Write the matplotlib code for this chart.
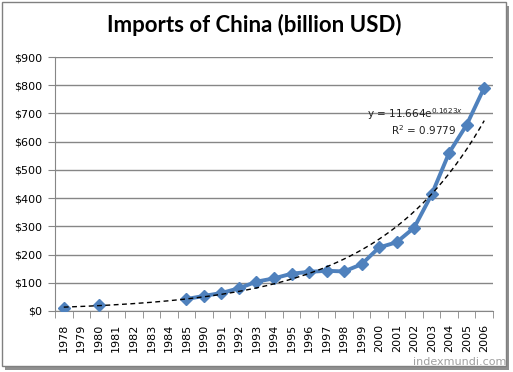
import numpy as np
import matplotlib.pyplot as plt
from matplotlib.patches import Rectangle

years = ["1978", "1979", "1980", "1981", "1982", "1983", "1984", "1985",
         "1990", "1991", "1992", "1993", "1994", "1995", "1996", "1997",
         "1998", "1999", "2000", "2001", "2002", "2003", "2004", "2005", "2006"]
imports = [10.9, None, 20.0, None, None, None, None, 42.3,
           53.4, 63.8, 80.6, 104.0, 115.6, 132.1, 138.8, 142.4,
           140.2, 165.7, 225.1, 243.6, 295.2, 412.8, 561.2, 660.0, 791.5]
trend_a = 11.664
trend_b = 0.1623
r2 = 0.9779

blue = "#4F81BD"
grid_c = "#868686"

fig = plt.figure(figsize=(5.13, 3.72), dpi=100)
W, H = 513, 372

# chart border with a bit of shadow like excel
fig.patches.append(Rectangle((5 / W, 1 - 370 / H), 504 / W, 364 / H,
                             transform=fig.transFigure, facecolor="#909090",
                             edgecolor="none", zorder=-2))
fig.patches.append(Rectangle((2 / W, 1 - 366 / H), 504 / W, 364 / H,
                             transform=fig.transFigure, facecolor="white",
                             edgecolor="#808080", linewidth=1, zorder=-1))

ax = fig.add_axes([55 / W, 1 - 311 / H, 438 / W, 254 / H])
ax.set_zorder(1)
ax.set_facecolor("none")

x = np.arange(1, len(years) + 1)
y = np.array([np.nan if v is None else v for v in imports])
ax.plot(x, y, color=blue, linewidth=2.8, marker="D", markersize=6.5,
        markeredgecolor=blue, zorder=3)

xt = np.linspace(1, len(years), 200)
ax.plot(xt, trend_a * np.exp(trend_b * xt), color="black", linestyle=(0, (3.5, 2.5)),
        linewidth=1, zorder=4)

ax.set_xlim(0.5, len(years) + 0.5)
ax.set_ylim(0, 900)
ax.set_yticks(range(0, 901, 100))
ax.set_yticklabels(["$%d" % v for v in range(0, 901, 100)])
ax.set_xticks(x)
ax.set_xticklabels(years, rotation=90)
ax.set_xticks(np.arange(0.5, len(years) + 1), minor=True)
ax.tick_params(axis="x", which="major", length=0, pad=9, labelsize=8)
ax.tick_params(axis="x", which="minor", length=5, color=grid_c)
ax.tick_params(axis="y", length=5, color=grid_c, labelsize=8, pad=4)
ax.grid(axis="y", color=grid_c, linewidth=1)
ax.set_axisbelow(True)
for s in ["top", "right"]:
    ax.spines[s].set_visible(False)
for s in ["left", "bottom"]:
    ax.spines[s].set_color(grid_c)

fig.text(254 / W, 1 - 25 / H, "Imports of China (billion USD)", ha="center",
         va="center", fontsize=16, fontweight="bold", family="Lato")
fig.text(463 / W, 1 - 114 / H, r"y = 11.664e$^{0.1623x}$", ha="right", va="center",
         fontsize=7.5, color="#202020")
fig.text(456 / W, 1 - 130 / H, r"R$^2$ = %.4f" % r2, ha="right", va="center",
         fontsize=7.5, color="#202020")
fig.text(506 / W, 1 - 362 / H, "indexmundi.com", ha="right", va="center",
         fontsize=8, color="#a0a0a0")

plt.savefig("out.png", dpi=100)
